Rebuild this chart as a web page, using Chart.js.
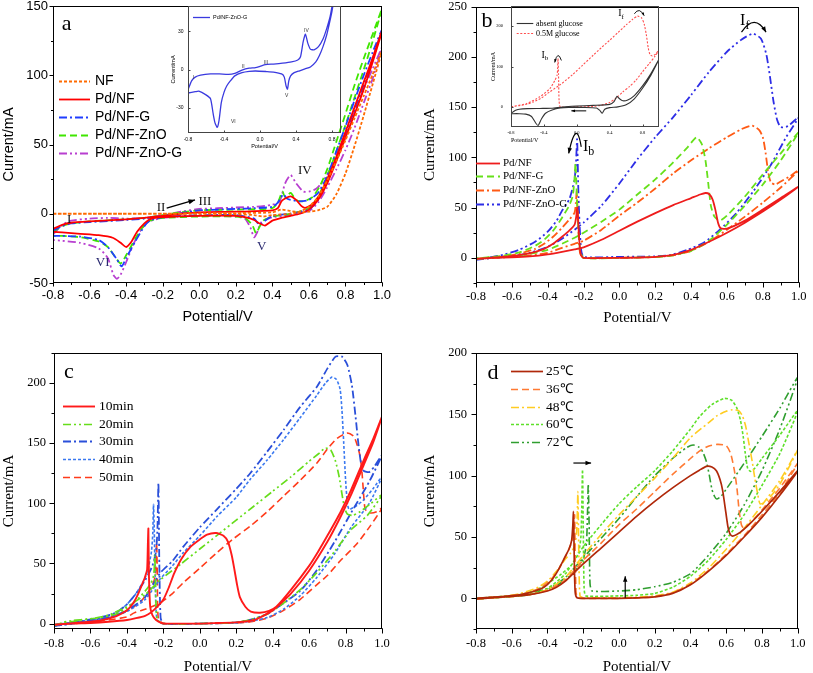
<!DOCTYPE html>
<html><head><meta charset="utf-8">
<script src="https://cdn.jsdelivr.net/npm/chart.js@4.4.1/dist/chart.umd.min.js"></script>
<style>
html,body{margin:0;padding:0;background:#fff;width:813px;height:673px;overflow:hidden;position:relative}
canvas{position:absolute}
</style></head><body>
<canvas id="ca" width="400" height="340" style="left:0px;top:-10px;width:400px;height:340px"></canvas>
<canvas id="cb" width="413" height="340" style="left:400px;top:-10px;width:413px;height:340px"></canvas>
<canvas id="cc" width="400" height="346" style="left:0px;top:330px;width:400px;height:346px"></canvas>
<canvas id="cd" width="413" height="346" style="left:400px;top:330px;width:413px;height:346px"></canvas>
<canvas id="cai" width="200" height="170" style="left:150px;top:-10px;width:200px;height:170px"></canvas>
<canvas id="cbi" width="200" height="160" style="left:470px;top:-10px;width:200px;height:160px"></canvas>
<script>
// ---------------- tick labels ----------------
const potTicks = [-0.8,-0.6,-0.4,-0.2,0.0,0.2,0.4,0.6,0.8,1.0];
const insetPotTicks = [-0.8,-0.4,0.0,0.4,0.8];
const aCurTicks = [-50,0,50,100,150];
const bCurTicks = [0,50,100,150,200,250];
const cCurTicks = [0,50,100,150,200];
const dCurTicks = [0,50,100,150,200];
const aInsetCurTicks = [-30,0,30];
const bInsetCurTicks = [0,100,200];

// ---------------- series names ----------------
const aLabels = ['NF','Pd/NF','Pd/NF-G','Pd/NF-ZnO','Pd/NF-ZnO-G'];
const aInsetLabels = ['Pd/NF-ZnO-G'];
const bLabels = ['Pd/NF','Pd/NF-G','Pd/NF-ZnO','Pd/NF-ZnO-G'];
const bInsetLabels = ['absent glucose','0.5M glucose'];
const cLabels = ['10min','20min','30min','40min','50min'];
const dLabels = ['25\u2103','36\u2103','48\u2103','60\u2103','72\u2103'];

// ---------------- panel a: [potential V, current mA] ----------------
const aNF = [[-0.8,0],[-0.6,0],[-0.4,0],[-0.2,0],[0,0.3],[0.2,0.5],[0.4,1],[0.45,3],[0.5,2],[0.55,1],[0.6,1.5],[0.65,2.5],[0.7,5],[0.75,14],[0.8,29],[0.85,49],[0.9,71],[0.95,94],[1.0,118],
 [0.95,101],[0.9,85],[0.85,69],[0.8,53],[0.75,38],[0.7,24],[0.65,12],[0.6,5],[0.55,1.5],[0.5,0],[0.4,-1],[0.35,-2],[0.3,-1],[0.2,-0.3],[0,0],[-0.4,0],[-0.8,0]];
const aPdNF = [[-0.8,-11],[-0.75,-8],[-0.7,-6.5],[-0.6,-5.5],[-0.5,-4.8],[-0.4,-4],[-0.3,-3],[-0.2,-1.5],[-0.1,0],[0,1],[0.2,1.5],[0.4,2.5],[0.43,4],[0.45,9],[0.47,11],[0.5,12.5],[0.53,10],[0.56,5.5],[0.58,4.3],[0.62,7],[0.66,14],[0.7,25],[0.75,41],[0.8,59],[0.85,77],[0.9,95],[0.95,113],[1.0,132],
 [0.95,110],[0.9,90],[0.85,72],[0.8,55],[0.75,38],[0.7,22],[0.65,10],[0.6,3],[0.55,0],[0.5,-1.5],[0.45,-3],[0.4,-5],[0.36,-8.5],[0.33,-7],[0.3,-4.5],[0.25,-2.5],[0.2,-1.5],[0,-1.5],[-0.2,-2.5],[-0.27,-4],[-0.3,-7],[-0.34,-13],[-0.37,-20],[-0.4,-24],[-0.43,-21],[-0.47,-17.5],[-0.55,-15.5],[-0.65,-14.5],[-0.75,-13.5],[-0.8,-13]];
const aPdNFG = [[-0.8,-12],[-0.75,-9],[-0.7,-7],[-0.6,-6],[-0.4,-4.5],[-0.3,-3.5],[-0.2,-1.5],[-0.1,0.5],[0,2.5],[0.1,3],[0.2,3.5],[0.3,4],[0.4,5],[0.43,8],[0.46,14],[0.48,11],[0.5,10],[0.55,9],[0.6,10],[0.65,15],[0.7,27],[0.75,45],[0.8,63],[0.85,82],[0.9,100],[0.95,117],[1.0,133],
 [0.95,112],[0.9,93],[0.85,75],[0.8,58],[0.75,40],[0.7,23],[0.65,10],[0.6,3],[0.5,0],[0.4,-1.5],[0.36,-5],[0.33,-8],[0.3,-3.5],[0.25,-2],[0.2,-1],[0,-1],[-0.2,-2.5],[-0.27,-5],[-0.3,-9],[-0.35,-20],[-0.4,-32],[-0.425,-38],[-0.45,-33],[-0.5,-24],[-0.55,-19],[-0.65,-16.5],[-0.75,-16],[-0.8,-16]];
const aPdNFZnO = [[-0.8,-13],[-0.75,-9],[-0.7,-7],[-0.6,-5.5],[-0.4,-4],[-0.3,-3],[-0.2,-1],[-0.1,1],[0,2.5],[0.2,3],[0.4,4],[0.43,8],[0.455,16],[0.47,12],[0.5,15],[0.53,10],[0.57,9],[0.62,12],[0.66,20],[0.7,32],[0.75,52],[0.8,72],[0.85,93],[0.9,112],[0.95,130],[1.0,148],
 [0.95,125],[0.9,104],[0.85,84],[0.8,64],[0.75,45],[0.7,27],[0.65,12],[0.6,4],[0.5,0],[0.4,-2],[0.35,-5],[0.32,-12],[0.31,-14],[0.29,-8],[0.25,-3],[0.2,-2],[0,-2],[-0.2,-3],[-0.27,-5],[-0.3,-8],[-0.35,-18],[-0.4,-30],[-0.43,-36],[-0.45,-33],[-0.5,-24],[-0.55,-20],[-0.65,-17],[-0.75,-16],[-0.8,-16]];
const aPdNFZnOG = [[-0.8,-15],[-0.75,-8],[-0.7,-5],[-0.6,-3.5],[-0.5,-3],[-0.4,-3.5],[-0.3,-3],[-0.2,-1],[-0.1,1.5],[0,3.5],[0.1,4],[0.2,4.5],[0.3,5],[0.4,6.5],[0.44,9],[0.47,22],[0.5,28],[0.53,22],[0.57,16],[0.6,16],[0.64,18],[0.68,24],[0.72,33],[0.76,45],[0.8,58],[0.85,74],[0.9,90],[0.95,105],[1.0,120],
 [0.95,98],[0.9,80],[0.85,62],[0.8,46],[0.75,32],[0.7,19],[0.65,8],[0.6,2],[0.5,-1],[0.4,-2.5],[0.34,-6],[0.315,-14],[0.3,-17],[0.28,-10],[0.25,-3.5],[0.2,-2],[0,-1.5],[-0.2,-3],[-0.28,-6],[-0.32,-12],[-0.36,-22],[-0.4,-35],[-0.43,-44],[-0.45,-47],[-0.47,-44],[-0.5,-32],[-0.55,-25],[-0.65,-21],[-0.75,-19.5],[-0.8,-19]];
const aInsetZnOG = [[-0.8,-16],[-0.76,-9],[-0.72,-6],[-0.66,-4.5],[-0.55,-3.5],[-0.45,-3.5],[-0.35,-3.8],[-0.28,-3],[-0.2,-0.5],[-0.12,1],[-0.05,1.5],[0,2.5],[0.06,3.8],[0.15,4.3],[0.25,5],[0.35,6],[0.42,7.5],[0.45,10],[0.48,22],[0.505,27.8],[0.53,21],[0.56,16],[0.6,15.5],[0.65,18],[0.7,24],[0.74,32],[0.78,42],[0.81,54],[0.84,68],
 [0.83,60],[0.8,46],[0.77,36],[0.74,27],[0.7,18],[0.66,11],[0.62,6],[0.56,2],[0.5,0.5],[0.44,-1],[0.38,-2.5],[0.34,-5],[0.32,-9],[0.305,-15.5],[0.29,-13],[0.27,-6],[0.24,-3.5],[0.15,-2],[0.07,-1.6],[-0.05,-1.2],[-0.12,-1.5],[-0.2,-2.5],[-0.28,-5],[-0.33,-9],[-0.37,-13],[-0.4,-18],[-0.43,-26],[-0.455,-40],[-0.475,-45.5],[-0.5,-42],[-0.52,-35],[-0.55,-23],[-0.6,-20],[-0.68,-17],[-0.72,-17.5],[-0.8,-18.5]];

// ---------------- panel b ----------------
const bPdNF = [[-0.8,-1],[-0.7,0],[-0.6,0.5],[-0.5,1.5],[-0.4,3.5],[-0.32,6],[-0.25,8.5],[-0.2,10.5],[-0.1,18],[0,27],[0.1,36],[0.2,44.5],[0.3,52.5],[0.4,59.5],[0.45,63],[0.48,64.5],[0.5,63.5],[0.52,58],[0.535,48],[0.55,35],[0.565,29.5],[0.6,29],[0.7,37],[0.8,48],[0.9,59.5],[1.0,71],
 [0.9,58],[0.8,46],[0.7,35],[0.6,25],[0.5,16],[0.4,8],[0.3,3],[0.2,1],[0.1,0.3],[0,0],[-0.2,0],[-0.215,3],[-0.225,20],[-0.232,45],[-0.236,50],[-0.24,42],[-0.25,33],[-0.28,27],[-0.32,21],[-0.37,14],[-0.42,9],[-0.47,6],[-0.55,3],[-0.65,1],[-0.8,-1]];
const bPdNFG = [[-0.8,-1],[-0.7,0.5],[-0.6,1.5],[-0.5,4],[-0.4,8],[-0.32,14],[-0.25,20],[-0.2,25],[-0.1,36],[0,48],[0.1,63],[0.2,78],[0.3,95],[0.38,110],[0.43,120],[0.46,113],[0.48,97],[0.495,75],[0.51,52],[0.53,41],[0.56,37],[0.6,42],[0.7,61],[0.8,83],[0.9,104],[1.0,125],
 [0.9,97],[0.8,73],[0.7,52],[0.6,33],[0.5,17],[0.4,7],[0.3,2.5],[0.2,0.8],[0,0],[-0.2,0],[-0.22,8],[-0.235,50],[-0.245,94],[-0.25,80],[-0.26,62],[-0.28,52],[-0.32,40],[-0.37,27],[-0.42,18],[-0.47,12],[-0.55,6],[-0.65,2],[-0.8,-0.5]];
const bPdNFZnO = [[-0.8,-1],[-0.7,0],[-0.6,1],[-0.5,2.5],[-0.4,5],[-0.32,10],[-0.25,14],[-0.2,17],[-0.1,28],[0,42],[0.1,55],[0.2,69],[0.3,84],[0.4,97],[0.5,109],[0.6,120],[0.68,128],[0.74,131.5],[0.78,127],[0.8,120],[0.815,105],[0.83,85],[0.845,75],[0.87,73],[0.9,76],[0.95,81],[1.0,87],
 [0.9,70],[0.8,55],[0.7,41],[0.6,28],[0.5,16],[0.4,7],[0.3,2.5],[0.2,0.8],[0,0],[-0.2,0],[-0.22,5],[-0.232,40],[-0.238,66],[-0.243,55],[-0.25,45],[-0.28,38],[-0.32,30],[-0.37,21],[-0.42,14],[-0.47,9],[-0.55,4.5],[-0.65,1.5],[-0.8,-1]];
const bPdNFZnOG = [[-0.8,-2],[-0.7,0],[-0.6,1.5],[-0.5,5],[-0.4,11],[-0.32,19],[-0.25,28],[-0.2,35],[-0.1,52],[0,74],[0.1,98],[0.2,120],[0.3,140],[0.4,162],[0.5,185],[0.6,205],[0.68,217],[0.745,223],[0.79,218],[0.82,202],[0.84,180],[0.86,155],[0.88,137],[0.9,130],[0.94,131],[1.0,140],
 [0.93,120],[0.84,91],[0.75,67],[0.65,44],[0.56,28],[0.47,15],[0.38,8],[0.29,3],[0.2,1.5],[0.1,1.2],[0,1],[-0.2,1],[-0.215,10],[-0.228,60],[-0.236,118],[-0.242,95],[-0.25,78],[-0.26,70],[-0.28,58],[-0.32,47],[-0.35,37],[-0.4,26],[-0.47,16],[-0.56,8],[-0.65,3],[-0.8,-2]];
const bInsetAbsent = [[-0.8,-16],[-0.75,-9],[-0.7,-6],[-0.6,-4.5],[-0.45,-4],[-0.3,-3.5],[-0.2,-1],[-0.1,1],[0,2],[0.2,3.5],[0.4,6],[0.45,12],[0.49,26],[0.52,20],[0.56,15],[0.62,17],[0.7,28],[0.8,52],[0.9,82],[1.0,118],
 [0.9,78],[0.8,46],[0.7,20],[0.6,5],[0.5,0],[0.4,-2],[0.34,-6],[0.31,-16],[0.28,-9],[0.24,-3],[0.1,-1.5],[-0.1,-1.5],[-0.2,-3],[-0.3,-8],[-0.38,-16],[-0.43,-30],[-0.47,-46],[-0.5,-40],[-0.55,-24],[-0.62,-18],[-0.7,-17],[-0.8,-17]];
const bInsetGlucose = [[-0.8,0],[-0.7,3],[-0.6,7],[-0.53,12],[-0.43,22],[-0.33,37],[-0.2,55],[-0.05,80],[0.07,103],[0.2,128],[0.3,147],[0.4,165],[0.5,184],[0.6,203],[0.68,217],[0.74,225],[0.79,220],[0.82,205],[0.845,180],[0.87,145],[0.89,130],[0.92,126],[0.96,131],[1.0,141],
 [0.95,125],[0.88,107],[0.8,87],[0.72,66],[0.64,50],[0.56,37],[0.48,22],[0.4,11],[0.3,4],[0.2,1],[0,0],[-0.2,0],[-0.215,15],[-0.222,80],[-0.228,120],[-0.233,95],[-0.24,78],[-0.268,65],[-0.328,45],[-0.449,25],[-0.61,8],[-0.8,0]];

// ---------------- panel c ----------------
const c10min = [[-0.8,-1],[-0.7,0],[-0.6,0.5],[-0.5,1.5],[-0.4,3],[-0.35,4.5],[-0.3,6.5],[-0.27,9],[-0.24,13],[-0.2,20],[-0.17,30],[-0.14,42],[-0.1,54],[-0.05,64],[0,70],[0.04,74],[0.09,75.3],[0.13,73],[0.155,68],[0.175,57],[0.19,45],[0.205,32],[0.22,22],[0.25,14],[0.28,10],[0.33,9],[0.38,10.5],[0.42,14],[0.5,28],[0.6,48],[0.65,60],[0.7,73],[0.77,92],[0.83,111],[0.9,136],[0.95,153],[1.0,172],
 [0.95,150],[0.9,132],[0.83,107],[0.77,88],[0.7,68],[0.6,44],[0.5,25],[0.4,11],[0.3,3],[0.2,1],[0.1,0.5],[0,0],[-0.18,0],[-0.21,0.5],[-0.24,3],[-0.26,7],[-0.272,14],[-0.279,40],[-0.282,79],[-0.285,65],[-0.289,45],[-0.3,39],[-0.31,35],[-0.34,24],[-0.365,17],[-0.4,11],[-0.46,6],[-0.55,2.5],[-0.65,1],[-0.8,-1]];
const c20min = [[-0.8,-2],[-0.75,1],[-0.7,2.5],[-0.6,4],[-0.5,7],[-0.456,10],[-0.4,14],[-0.3,24],[-0.22,36],[-0.1,50],[0,62],[0.1,74],[0.2,86],[0.3,98],[0.4,110],[0.5,122],[0.6,135],[0.65,141],[0.69,146],[0.72,144],[0.745,135],[0.765,122],[0.78,108],[0.795,96],[0.81,91],[0.84,90],[0.88,93],[0.94,100],[1.0,107],
 [0.92,90],[0.83,78],[0.74,60],[0.64,42],[0.55,28],[0.46,17],[0.37,8],[0.28,3.3],[0.2,1],[0,0],[-0.2,0],[-0.232,3],[-0.24,15],[-0.244,40],[-0.247,57],[-0.25,45],[-0.256,38],[-0.27,33],[-0.3,27],[-0.35,19],[-0.4,13],[-0.46,8],[-0.55,5],[-0.65,3],[-0.8,-1]];
const c30min = [[-0.8,-2],[-0.7,0],[-0.6,2],[-0.5,5],[-0.4,11],[-0.3,22],[-0.218,42],[-0.15,52],[-0.09,64],[0,80],[0.094,95],[0.2,112],[0.277,125],[0.37,143],[0.46,161],[0.55,180],[0.643,197],[0.7,212],[0.745,222],[0.78,222],[0.81,215],[0.835,198],[0.855,172],[0.87,150],[0.885,133],[0.9,127],[0.93,126],[0.96,131],[1.0,140],
 [0.93,118],[0.83,92],[0.74,68],[0.64,44],[0.55,27],[0.46,17],[0.37,8],[0.28,3.3],[0.2,1],[0,0],[-0.2,0],[-0.215,5],[-0.222,50],[-0.227,117],[-0.232,80],[-0.24,60],[-0.26,48],[-0.3,36],[-0.35,25],[-0.4,16],[-0.46,9],[-0.55,5],[-0.65,2],[-0.8,-1]];
const c40min = [[-0.8,-2],[-0.7,0],[-0.6,2],[-0.5,5],[-0.4,10],[-0.3,20],[-0.218,37],[-0.15,48],[-0.09,59],[0,73],[0.094,89],[0.2,105],[0.277,120],[0.37,136],[0.46,153],[0.55,171],[0.643,190],[0.69,200],[0.726,205],[0.75,203],[0.77,195],[0.78,178],[0.79,150],[0.8,120],[0.81,100],[0.82,95],[0.86,98],[0.9,103],[0.95,112],[1.0,122],
 [0.93,100],[0.83,80],[0.74,58],[0.64,38],[0.55,23],[0.46,12],[0.37,5],[0.28,2],[0.2,0.5],[0,0],[-0.2,0],[-0.235,3],[-0.245,40],[-0.25,80],[-0.254,99],[-0.258,75],[-0.265,60],[-0.28,48],[-0.3,38],[-0.35,25],[-0.4,16],[-0.46,9],[-0.55,4.5],[-0.65,2],[-0.8,-1]];
const c50min = [[-0.8,-1],[-0.7,0],[-0.6,1],[-0.5,3],[-0.4,5.5],[-0.36,8.9],[-0.3,12],[-0.22,17],[-0.15,25],[-0.09,34],[0,46],[0.094,59],[0.18,70],[0.277,81],[0.37,93],[0.46,106],[0.55,119],[0.643,133.5],[0.7,145],[0.753,154],[0.808,158.4],[0.845,155.7],[0.865,148],[0.88,139],[0.89,126],[0.896,114],[0.903,100],[0.909,94.7],[0.936,92],[0.97,93],[1.0,96],
 [0.93,80],[0.86,66],[0.77,52],[0.7,40],[0.64,32],[0.55,20],[0.46,11],[0.37,4.5],[0.28,1.5],[0.2,0.5],[0,0],[-0.2,0],[-0.228,5],[-0.233,40],[-0.237,67],[-0.242,45],[-0.25,36],[-0.28,27],[-0.32,19],[-0.38,12],[-0.46,7],[-0.55,3.5],[-0.65,1.5],[-0.8,-1]];

// ---------------- panel d ----------------
const d25C = [[-0.8,-0.5],[-0.7,0.5],[-0.6,1.5],[-0.5,3],[-0.4,6],[-0.35,9],[-0.3,14],[-0.25,21],[-0.2,28],[-0.1,41],[0,54],[0.1,67],[0.2,79],[0.3,90],[0.4,100],[0.45,104.5],[0.49,107.6],[0.52,107],[0.545,104],[0.565,97],[0.58,88],[0.598,70],[0.61,58],[0.62,53],[0.635,50.7],[0.68,54],[0.727,60],[0.8,71],[0.9,87],[1.0,104],
 [0.9,84],[0.8,66],[0.7,50],[0.6,35],[0.5,22],[0.4,11],[0.3,4],[0.2,1.2],[0.1,0.3],[0,0],[-0.2,0],[-0.235,0.5],[-0.245,5],[-0.25,30],[-0.253,60],[-0.255,71],[-0.258,60],[-0.265,47],[-0.28,40],[-0.301,34],[-0.34,23],[-0.374,15.4],[-0.42,9],[-0.47,6],[-0.55,3],[-0.65,1.5],[-0.8,0]];
const d36C = [[-0.8,-0.5],[-0.7,0.5],[-0.6,1.5],[-0.5,3],[-0.4,6.5],[-0.3,15],[-0.2,31],[-0.1,45],[0,60],[0.1,73],[0.2,87],[0.3,101],[0.4,114],[0.45,120],[0.5,124],[0.55,125.5],[0.6,124.5],[0.625,118],[0.645,105],[0.66,90],[0.672,72],[0.685,60],[0.7,57],[0.745,63],[0.8,72],[0.9,90],[1.0,110],
 [0.9,86],[0.8,68],[0.7,51],[0.6,36],[0.5,22.5],[0.4,11.5],[0.3,4.5],[0.2,1.3],[0.1,0.3],[0,0],[-0.2,0],[-0.232,0.5],[-0.24,5],[-0.245,35],[-0.248,68],[-0.252,60],[-0.26,48],[-0.28,40],[-0.3,34],[-0.34,23],[-0.38,15.5],[-0.43,9.5],[-0.5,5],[-0.6,2],[-0.8,0]];
const d48C = [[-0.8,-0.5],[-0.7,0.5],[-0.6,1.5],[-0.5,3],[-0.4,7],[-0.3,17],[-0.2,35],[-0.1,52],[0,68],[0.1,83],[0.2,98],[0.3,114],[0.4,131],[0.5,143],[0.55,149],[0.6,152.5],[0.635,153.7],[0.67,153],[0.69,149],[0.708,141],[0.725,128],[0.745,112],[0.76,98],[0.775,86],[0.79,77],[0.83,80],[0.9,93],[1.0,121],
 [0.9,96],[0.8,76],[0.7,57],[0.6,40],[0.5,24.5],[0.4,12.5],[0.3,5],[0.2,2],[0.1,1],[0,0.5],[-0.2,0.5],[-0.218,2],[-0.224,30],[-0.228,70],[-0.23,87],[-0.233,70],[-0.238,52],[-0.25,42],[-0.27,37],[-0.3,32],[-0.35,22],[-0.4,14],[-0.46,8.5],[-0.55,4],[-0.65,1.5],[-0.8,0]];
const d60C = [[-0.8,-0.5],[-0.7,0.5],[-0.6,1.5],[-0.5,3.5],[-0.4,8],[-0.3,20],[-0.2,42],[-0.1,60],[0,77],[0.1,91],[0.2,104],[0.3,120],[0.4,138],[0.45,148],[0.52,158],[0.59,163],[0.63,161.5],[0.66,155],[0.68,145],[0.695,132],[0.707,118],[0.72,106],[0.736,103.5],[0.76,106],[0.8,114],[0.9,133],[1.0,153],
 [0.9,118],[0.8,92],[0.7,68],[0.6,48],[0.5,31],[0.4,18],[0.3,9],[0.2,4],[0.1,2.5],[0,2],[-0.185,2],[-0.195,8],[-0.2,60],[-0.204,105],[-0.208,75],[-0.213,50],[-0.225,38],[-0.25,30],[-0.28,25],[-0.33,19],[-0.4,12],[-0.46,7],[-0.55,3],[-0.65,1.5],[-0.8,0]];
const d72C = [[-0.8,-0.5],[-0.7,0.5],[-0.6,1.5],[-0.5,3],[-0.4,7],[-0.3,17],[-0.2,33],[-0.1,49],[0,65],[0.1,83],[0.2,100],[0.3,114],[0.38,123],[0.415,125],[0.45,123],[0.47,119],[0.49,111],[0.506,100],[0.52,89],[0.535,83],[0.547,81],[0.57,83],[0.6,89],[0.7,110],[0.8,132],[0.9,155],[1.0,180],
 [0.9,138],[0.8,104],[0.7,76],[0.6,53],[0.5,35],[0.45,27],[0.4,20],[0.3,13],[0.2,9.5],[0.1,7],[0,6],[-0.15,6],[-0.162,12],[-0.167,60],[-0.172,93],[-0.176,70],[-0.182,45],[-0.2,32],[-0.25,22],[-0.3,15],[-0.35,10.5],[-0.42,7],[-0.5,4],[-0.6,2],[-0.8,0]];

// ---------------- styling helpers ----------------
const SERIF = '"Liberation Serif","Times New Roman",serif';
const SANS = '"Liberation Sans",Arial,sans-serif';
const DOT = [3,2], DASH = [7,4], DASHDOT = [8,3,2,3], DASHDOTDOT = [8,3,2,3,2,3];

function line(label, arr, color, dash, width) {
  return { label, data: arr.map(p => ({x: p[0], y: p[1]})), borderColor: color, backgroundColor: color,
    borderDash: dash, borderWidth: width, showLine: true, pointRadius: 0, pointHoverRadius: 0, fill: false, tension: 0.2 };
}

const deco = {
  id: 'deco',
  afterDatasetsDraw(chart, args, o) {
    const ctx = chart.ctx, ca = chart.chartArea, xs = chart.scales.x, ys = chart.scales.y;
    ctx.save();
    const L = Math.round(ca.left) + 0.5, T = Math.round(ca.top) + 0.5, R = Math.round(ca.right) - 0.5, B = Math.round(ca.bottom) - 0.5;
    ctx.setLineDash([]);
    ctx.strokeStyle = o.frameColor || '#000'; ctx.lineWidth = o.frameWidth || 1;
    ctx.strokeRect(L, T, R - L, B - T);
    const tick = (axis, step, len) => {
      if (!step) return;
      const sc = axis === 'x' ? xs : ys;
      const k0 = Math.ceil(sc.min / step - 1e-6), k1 = Math.floor(sc.max / step + 1e-6);
      ctx.beginPath();
      for (let k = k0; k <= k1; k++) {
        const p = Math.round(sc.getPixelForValue(k * step)) + 0.5;
        if (axis === 'x') { ctx.moveTo(p, B); ctx.lineTo(p, B + len); }
        else { ctx.moveTo(L, p); ctx.lineTo(L - len, p); }
      }
      ctx.stroke();
    };
    tick('x', o.xMinor, o.minorLen); tick('y', o.yMinor, o.minorLen);
    tick('x', o.xMajor, o.majorLen); tick('y', o.yMajor, o.majorLen);
    if (o.legend) {
      const g = o.legend;
      ctx.textBaseline = 'middle'; ctx.textAlign = 'left';
      chart.data.datasets.forEach((d, i) => {
        const y = Math.round(ca.top + g.y + i * g.dy) + 0.5;
        ctx.strokeStyle = d.borderColor; ctx.lineWidth = d.borderWidth; ctx.setLineDash(d.borderDash || []);
        ctx.beginPath(); ctx.moveTo(ca.left + g.x0, y); ctx.lineTo(ca.left + g.x1, y); ctx.stroke();
        ctx.setLineDash([]); ctx.font = g.font; ctx.fillStyle = '#000';
        ctx.fillText(d.label, ca.left + g.tx, y + (g.ty || 0));
      });
    }
    (o.texts || []).forEach(t => {
      const x = xs.getPixelForValue(t.x), y = ys.getPixelForValue(t.y);
      ctx.fillStyle = t.color || '#000'; ctx.textBaseline = 'middle';
      ctx.font = t.font;
      if (t.sub) {
        const w = ctx.measureText(t.t).width; ctx.font = t.subFont; const ws = ctx.measureText(t.sub).width;
        const x0 = x - (w + ws) / 2; ctx.textAlign = 'left';
        ctx.font = t.font; ctx.fillText(t.t, x0, y);
        ctx.font = t.subFont; ctx.fillText(t.sub, x0 + w, y + t.subDy);
      } else { ctx.textAlign = 'center'; ctx.fillText(t.t, x, y); }
    });
    (o.arrows || []).forEach(a => {
      const P = a.pts.map(p => [xs.getPixelForValue(p[0]), ys.getPixelForValue(p[1])]);
      ctx.strokeStyle = ctx.fillStyle = a.color || '#000'; ctx.lineWidth = a.w || 1.2; ctx.setLineDash([]);
      ctx.beginPath(); ctx.moveTo(P[0][0], P[0][1]);
      if (P.length === 3) ctx.quadraticCurveTo(P[1][0], P[1][1], P[2][0], P[2][1]); else ctx.lineTo(P[1][0], P[1][1]);
      ctx.stroke();
      const e = P[P.length - 1], s = P[P.length - 2], h = a.head || 6;
      const ang = Math.atan2(e[1] - s[1], e[0] - s[0]);
      ctx.beginPath(); ctx.moveTo(e[0], e[1]);
      ctx.lineTo(e[0] - h * Math.cos(ang - 0.38), e[1] - h * Math.sin(ang - 0.38));
      ctx.lineTo(e[0] - h * Math.cos(ang + 0.38), e[1] - h * Math.sin(ang + 0.38));
      ctx.closePath(); ctx.fill();
    });
    ctx.restore();
  }
};

function build(id, p) {
  const fx = v => (Math.abs(v) < 1e-9 ? 0 : v).toFixed(1);
  return new Chart(document.getElementById(id), {
    type: 'scatter',
    data: { datasets: p.datasets },
    options: {
      responsive: false, animation: false, events: [],
      layout: { padding: { top: p.padTop, right: p.padRight, left: 0, bottom: 0 } },
      plugins: { legend: { display: false }, tooltip: { enabled: false }, deco: p.deco },
      scales: {
        x: {
          type: 'linear', min: p.xMin, max: p.xMax,
          afterBuildTicks: s => { s.ticks = p.xTicks.map(v => ({ value: v })); },
          afterFit: s => { s.height = p.xH; },
          grid: { display: false, drawTicks: false }, border: { display: false },
          ticks: { callback: fx, font: { family: p.font, size: p.tick }, color: '#000', padding: p.xPad, maxRotation: 0, autoSkip: false },
          title: { display: true, text: 'Potential/V', align: p.xAlign || 'center', font: { family: p.font, size: p.title }, color: '#000', padding: { top: 0, bottom: p.xTitlePad } }
        },
        y: {
          type: 'linear', min: p.yMin, max: p.yMax,
          afterBuildTicks: s => { s.ticks = p.yTicks.map(v => ({ value: v })); },
          afterFit: s => { s.width = p.yW; },
          grid: { display: false, drawTicks: false }, border: { display: false },
          ticks: { callback: v => String(v), font: { family: p.font, size: p.tick }, color: '#000', padding: p.yPad, autoSkip: false },
          title: { display: true, text: 'Current/mA', font: { family: p.font, size: p.title }, color: '#000', padding: { top: p.yTitlePad, bottom: 0 } }
        }
      }
    },
    plugins: [deco]
  });
}

const roman = (t, x, y, c) => ({ t, x, y, font: '13px ' + SERIF, color: c || '#111' });
const big = (t, x, y) => ({ t, x, y, font: '22px ' + SERIF });

// ---------------- panel a ----------------
build('ca', {
  datasets: [
    line(aLabels[0], aNF, '#ff6a00', DOT, 1.8),
    line(aLabels[1], aPdNF, '#ff0000', [], 1.8),
    line(aLabels[2], aPdNFG, '#1f3dff', DASHDOT, 1.8),
    line(aLabels[3], aPdNFZnO, '#3fe600', DASH, 1.8),
    line(aLabels[4], aPdNFZnOG, '#b83fd0', DASHDOTDOT, 1.8)
  ],
  xMin: -0.8, xMax: 1.0, yMin: -50, yMax: 150, xTicks: potTicks, yTicks: aCurTicks,
  padTop: 16, padRight: 18, yW: 53, xH: 47, font: SANS, tick: 13, title: 14.5,
  xPad: 5, yPad: 5, xTitlePad: 4, yTitlePad: 0,
  deco: {
    xMajor: 0.2, xMinor: 0.1, yMajor: 50, yMinor: 25, majorLen: 4, minorLen: 2.5,
    legend: { x0: 6, x1: 37, tx: 42, y: 75, dy: 18, font: '14px ' + SANS },
    texts: [ big('a', -0.725, 137), roman('I', -0.711, -4.3), roman('II', -0.209, 4.8), roman('III', 0.031, 8.9),
      roman('IV', 0.578, 31.2), roman('V', 0.342, -23.6, '#2a2a70'), roman('VI', -0.528, -35.5, '#2a2a70') ],
    arrows: [ { pts: [[-0.178, 4.1], [-0.023, 10]], w: 1.4, head: 7 } ]
  }
});

// ---------------- panel a inset ----------------
build('cai', {
  datasets: [ line(aInsetLabels[0], aInsetZnOG, '#3a3adf', [], 1.3) ],
  xMin: -0.8, xMax: 0.9, yMin: -50, yMax: 50, xTicks: insetPotTicks, yTicks: aInsetCurTicks,
  padTop: 16, padRight: 9, yW: 38, xH: 27, font: SANS, tick: 5, title: 5.5,
  xPad: 3.5, yPad: 4.5, xTitlePad: 10, yTitlePad: 20,
  deco: {
    frameColor: '#444', xMajor: 0.4, yMajor: 30, majorLen: -2, minorLen: 0,
    legend: { x0: 5, x1: 22, tx: 25, y: 11.3, dy: 0, font: '5.5px ' + SANS },
    texts: [ {t:'I',x:-0.738,y:-6.2,font:'5px '+SANS,color:'#333'}, {t:'II',x:-0.185,y:2.3,font:'5px '+SANS,color:'#333'},
      {t:'III',x:0.066,y:5.5,font:'5px '+SANS,color:'#333'}, {t:'IV',x:0.516,y:30.4,font:'5px '+SANS,color:'#333'},
      {t:'V',x:0.295,y:-20.3,font:'5px '+SANS,color:'#333'}, {t:'VI',x:-0.296,y:-41.3,font:'5px '+SANS,color:'#333'} ]
  }
});

// ---------------- panel b ----------------
const sI = (sub, x, y, size) => ({ t: 'I', sub, x, y, font: size + 'px ' + SERIF, subFont: Math.round(size * 0.72) + 'px ' + SERIF, subDy: size * 0.3 });
build('cb', {
  datasets: [
    line(bLabels[0], bPdNF, '#ee1c1c', [], 1.8),
    line(bLabels[1], bPdNFG, '#66e01a', DASH, 1.8),
    line(bLabels[2], bPdNFZnO, '#ff5a14', DASHDOT, 1.8),
    line(bLabels[3], bPdNFZnOG, '#2d2de6', DASHDOTDOT, 1.8)
  ],
  xMin: -0.8, xMax: 1.0, yMin: -25, yMax: 250, xTicks: potTicks, yTicks: bCurTicks,
  padTop: 16, padRight: 10, yW: 76, xH: 47, font: SERIF, tick: 12.5, title: 15,
  xPad: 6.5, yPad: 9, xTitlePad: 3, yTitlePad: 21,
  deco: {
    xMajor: 0.2, xMinor: 0.1, yMajor: 50, yMinor: 25, majorLen: 5, minorLen: 3,
    legend: { x0: 0, x1: 24, tx: 27, y: 156, dy: 13.7, font: '11px ' + SERIF },
    texts: [ big('b', -0.738, 235), sI('f', 0.699, 235.4, 16), sI('b', -0.172, 110, 16) ],
    arrows: [ { pts: [[0.681, 224.5], [0.754, 244], [0.818, 224.5]], w: 1.2, head: 6 },
              { pts: [[-0.213, 110.4], [-0.24, 140], [-0.283, 103.9]], w: 1.2, head: 6 } ]
  }
});

// ---------------- panel b inset ----------------
build('cbi', {
  datasets: [
    line(bInsetLabels[0], bInsetAbsent, '#333333', [], 1.1),
    line(bInsetLabels[1], bInsetGlucose, '#ff4d4d', [2, 1.6], 1.1)
  ],
  xMin: -0.8, xMax: 1.0, yMin: -50, yMax: 250, xTicks: insetPotTicks, yTicks: bInsetCurTicks,
  padTop: 16, padRight: 11, yW: 41, xH: 23, font: SERIF, tick: 4.5, title: 6,
  xPad: 3, yPad: 8, xTitlePad: 6, yTitlePad: 20, xAlign: 'start',
  deco: {
    frameColor: '#444', xMajor: 0.4, yMajor: 100, majorLen: -2, minorLen: 0,
    legend: { x0: 5.7, x1: 22.3, tx: 25, y: 16.7, dy: 10, font: '8px ' + SERIF },
    texts: [ sI('b', -0.389, 127.6, 10), sI('f', 0.539, 230.6, 10) ],
    arrows: [ { pts: [[-0.187, 115], [-0.232, 142], [-0.268, 110]], w: 0.9, head: 3.5 },
              { pts: [[0.70, 230.6], [0.76, 249], [0.82, 226]], w: 0.9, head: 3.5 },
              { pts: [[0.115, -10], [-0.066, -10]], w: 1, head: 4 } ]
  }
});

// ---------------- panel c ----------------
build('cc', {
  datasets: [
    line(cLabels[0], c10min, '#ff1a1a', [], 1.9),
    line(cLabels[1], c20min, '#66dd1a', DASHDOTDOT, 1.7),
    line(cLabels[2], c30min, '#2a4fd9', DASHDOT, 1.8),
    line(cLabels[3], c40min, '#3a78f0', DOT, 1.6),
    line(cLabels[4], c50min, '#ff3b1a', DASH, 1.6)
  ],
  xMin: -0.8, xMax: 1.0, yMin: -4.5, yMax: 225, xTicks: potTicks, yTicks: cCurTicks,
  padTop: 23, padRight: 18, yW: 54, xH: 47, font: SERIF, tick: 12.5, title: 15,
  xPad: 7, yPad: 8, xTitlePad: 0, yTitlePad: 0,
  deco: {
    xMajor: 0.2, xMinor: 0.1, yMajor: 50, yMinor: 25, majorLen: 5, minorLen: 3,
    legend: { x0: 9, x1: 41, tx: 45, y: 53, dy: 17.7, font: '13.5px ' + SERIF },
    texts: [ big('c', -0.718, 209.4) ]
  }
});

// ---------------- panel d ----------------
build('cd', {
  datasets: [
    line(dLabels[0], d25C, '#b0280a', [], 1.7),
    line(dLabels[1], d36C, '#ff7a33', DASH, 1.6),
    line(dLabels[2], d48C, '#ffcc22', DASHDOT, 1.6),
    line(dLabels[3], d60C, '#5ee02a', DOT, 1.6),
    line(dLabels[4], d72C, '#2f9e2f', DASHDOTDOT, 1.6)
  ],
  xMin: -0.8, xMax: 1.0, yMin: -25, yMax: 200, xTicks: potTicks, yTicks: dCurTicks,
  padTop: 23, padRight: 10, yW: 76, xH: 47, font: SERIF, tick: 12.5, title: 15,
  xPad: 7.5, yPad: 9, xTitlePad: 0, yTitlePad: 21,
  deco: {
    xMajor: 0.2, xMinor: 0.1, yMajor: 50, yMinor: 25, majorLen: 5, minorLen: 3,
    legend: { x0: 35, x1: 67, tx: 70, y: 18, dy: 17.75, font: '13.5px ' + SERIF },
    texts: [ big('d', -0.705, 183.5) ],
    arrows: [ { pts: [[-0.255, 110.3], [-0.156, 110.3]], w: 1.2, head: 6 },
              { pts: [[0.035, 0.5], [0.035, 18]], w: 1.2, head: 6 } ]
  }
});
</script>
</body></html>
